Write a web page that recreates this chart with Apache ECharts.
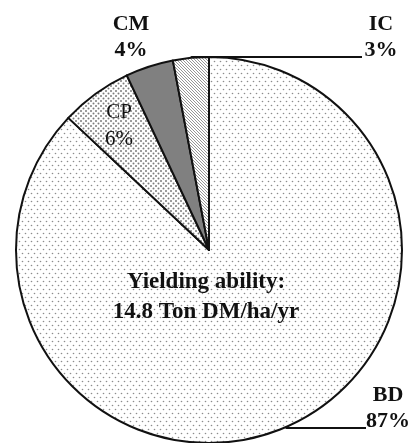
<!DOCTYPE html>
<html>
<head>
<meta charset="utf-8">
<script src="https://cdn.jsdelivr.net/npm/echarts@6/dist/echarts.min.js"></script>
<style>html,body{margin:0;padding:0;background:#fff;}#c{width:411px;height:443px;}</style>
</head>
<body>
<div id="c"></div>
<script>
const categories = ['BD', 'CP', 'CM', 'IC'];
const values = [87, 6, 4, 3];
const centerText = ['Yielding ability:', '14.8 Ton DM/ha/yr'];

function tile(w, h, draw) {
  const c = document.createElement('canvas');
  c.width = w; c.height = h;
  const g = c.getContext('2d');
  g.fillStyle = '#fff'; g.fillRect(0, 0, w, h);
  draw(g);
  return { image: c, repeat: 'repeat' };
}
function dots(g, pts, r, col) {
  g.fillStyle = col;
  pts.forEach(p => { g.beginPath(); g.arc(p[0], p[1], r, 0, Math.PI * 2); g.fill(); });
}
const patBD = tile(6, 8, g => dots(g, [[1.5, 1.5], [4.5, 5.5]], 0.8, '#8c8c8c'));
const patCP = tile(5, 5, g => dots(g, [[1, 1], [3.5, 3.5]], 1.0, '#7c7c7c'));
const patIC = tile(3, 3, g => {
  g.strokeStyle = '#8a8a8a'; g.lineWidth = 0.9;
  g.beginPath();
  g.moveTo(-1, -1); g.lineTo(4, 4);
  g.moveTo(-1, 2); g.lineTo(1, 4);
  g.moveTo(2, -1); g.lineTo(4, 1);
  g.stroke();
});
const fills = [patBD, patCP, '#808080', patIC];

const font = 'Liberation Serif';
const boldLabel = { fontFamily: font, fontWeight: 'bold', fontSize: 22, lineHeight: 26, color: '#111' };

const labelPlaces = {
  BD: { x: 388, y: 408, end: [366, 428] },
  CP: { x: 119, y: 126 },
  CM: { x: 131, y: 37 },
  IC: { x: 381, y: 37, end: [362, 57] }
};

const chart = echarts.init(document.getElementById('c'), null, { renderer: 'canvas' });
chart.setOption({
  animation: false,
  backgroundColor: '#fff',
  graphic: [{
    type: 'text',
    x: 206, y: 297,
    z: 100,
    style: {
      text: centerText.join('\n'),
      fontFamily: font, fontWeight: 'bold', fontSize: 23, lineHeight: 30,
      fill: '#111', textAlign: 'center', textVerticalAlign: 'middle'
    }
  }],
  series: [{
    type: 'pie',
    center: [209, 250],
    radius: 193,
    startAngle: 90,
    clockwise: true,
    avoidLabelOverlap: false,
    emphasis: { disabled: true },
    itemStyle: { borderColor: '#111', borderWidth: 2 },
    label: Object.assign({ show: true, position: 'outside', formatter: '{b}\n{c}%' }, boldLabel),
    labelLine: { show: true, length: 10, length2: 40, lineStyle: { color: '#111', width: 2 } },
    labelLayout: function (p) {
      const name = categories[p.dataIndex];
      const pl = labelPlaces[name];
      const out = { x: pl.x, y: pl.y, align: 'center', verticalAlign: 'middle' };
      if (pl.end && p.labelLinePoints) {
        const p0 = p.labelLinePoints[0];
        out.labelLinePoints = [[p0[0], p0[1]], [p0[0] + 1, pl.end[1]], pl.end];
      }
      return out;
    },
    data: categories.map((n, i) => {
      const d = { name: n, value: values[i], itemStyle: { color: fills[i] } };
      if (n === 'CM') d.labelLine = { show: false };
      if (n === 'CP') {
        d.labelLine = { show: false };
        d.label = { fontWeight: 'normal', fontSize: 21, lineHeight: 27 };
      }
      return d;
    })
  }]
});
</script>
</body>
</html>
